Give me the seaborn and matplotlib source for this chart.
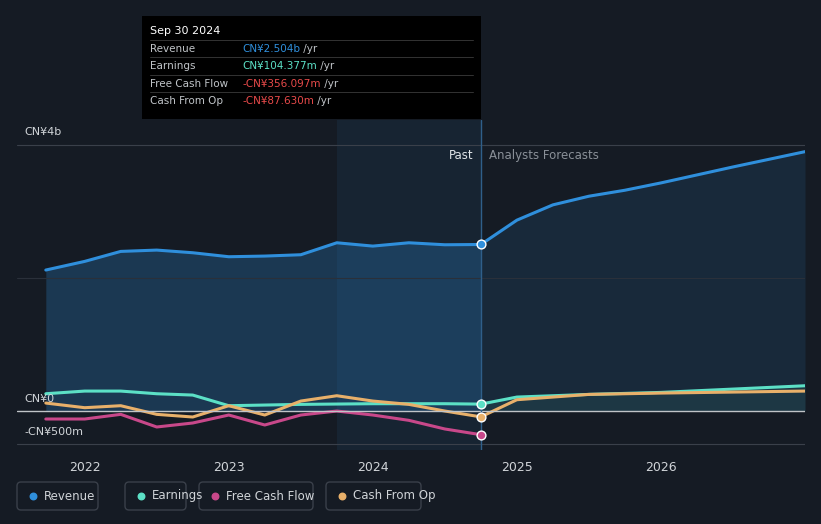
import numpy as np
import pandas as pd
import matplotlib
matplotlib.use('Agg')
import matplotlib.pyplot as plt
import seaborn as sns
from matplotlib.patches import FancyBboxPatch

sns.set_style('dark')
plt.rcParams['font.family'] = ['DejaVu Sans']

# values in CN¥ billions
rev_x = [2021.73, 2022.0, 2022.25, 2022.5, 2022.75, 2023.0, 2023.25, 2023.5, 2023.75, 2024.0, 2024.25, 2024.5, 2024.75]
rev_y = [2.12, 2.25, 2.40, 2.42, 2.38, 2.32, 2.33, 2.35, 2.53, 2.48, 2.53, 2.50, 2.504]
rev_fx = [2024.75, 2025.0, 2025.25, 2025.5, 2025.75, 2026.0, 2026.5, 2027.0]
rev_fy = [2.504, 2.87, 3.10, 3.23, 3.32, 3.43, 3.67, 3.90]

earn_x = [2021.73, 2022.0, 2022.25, 2022.5, 2022.75, 2023.0, 2023.5, 2024.0, 2024.5, 2024.75]
earn_y = [0.26, 0.30, 0.30, 0.26, 0.24, 0.08, 0.10, 0.11, 0.11, 0.104]
earn_fx = [2024.75, 2025.0, 2025.5, 2026.0, 2027.0]
earn_fy = [0.104, 0.21, 0.25, 0.28, 0.38]

fcf_x = [2021.73, 2022.0, 2022.25, 2022.5, 2022.75, 2023.0, 2023.25, 2023.5, 2023.75, 2024.0, 2024.25, 2024.5, 2024.75]
fcf_y = [-0.12, -0.12, -0.05, -0.24, -0.18, -0.06, -0.21, -0.06, 0.0, -0.06, -0.14, -0.27, -0.356]

cfo_x = [2021.73, 2022.0, 2022.25, 2022.5, 2022.75, 2023.0, 2023.25, 2023.5, 2023.75, 2024.0, 2024.25, 2024.5, 2024.75]
cfo_y = [0.12, 0.05, 0.08, -0.05, -0.09, 0.08, -0.06, 0.15, 0.23, 0.15, 0.10, 0.0, -0.088]
cfo_fx = [2024.75, 2025.0, 2025.5, 2026.0, 2027.0]
cfo_fy = [-0.088, 0.17, 0.25, 0.27, 0.30]

BG = '#151b24'
C_REV, C_EARN, C_FCF, C_CFO = '#2f8fdc', '#5ce0c6', '#c8488a', '#e8b06a'

fig = plt.figure(figsize=(8.21, 5.24), dpi=100, facecolor=BG)
ax = fig.add_axes([17/821, 1-450/524, 788/821, 330/524], facecolor=BG)
ax.set_xlim(2021.53, 2027.0)
ax.set_ylim(-0.586, 4.376)

# fills
ax.fill_between(rev_x, rev_y, 0, color=C_REV, alpha=0.25, lw=0)
ax.fill_between(rev_fx, rev_fy, 0, color=C_REV, alpha=0.12, lw=0)
ax.fill_between(earn_fx, earn_fy, 0, color=C_EARN, alpha=0.08, lw=0)
ax.axvspan(2023.75, 2024.75, color=C_REV, alpha=0.08, lw=0)

for x, y, c in [(rev_x, rev_y, C_REV), (rev_fx, rev_fy, C_REV),
                (earn_x, earn_y, C_EARN), (earn_fx, earn_fy, C_EARN),
                (fcf_x, fcf_y, C_FCF),
                (cfo_x, cfo_y, C_CFO), (cfo_fx, cfo_fy, C_CFO)]:
    d = pd.DataFrame({'x': x, 'y': y})
    sns.lineplot(data=d, x='x', y='y', ax=ax, color=c, lw=2.2)

for y, c in [(rev_y[-1], C_REV), (earn_y[-1], C_EARN), (fcf_y[-1], C_FCF), (cfo_y[-1], C_CFO)]:
    ax.scatter([2024.75], [y], s=40, color=c, edgecolor='white', lw=1, zorder=5)

ax.axhline(4, color='#3a404a', lw=0.8)
ax.axhline(2, color='#2a303a', lw=0.8)
ax.axhline(0, color='#c0c4c8', lw=1)
ax.axhline(-0.5, color='#3a404a', lw=0.8)
ax.axvline(2024.75, color='#2f5f8a', lw=1)

ax.set_xticks([2022, 2023, 2024, 2025, 2026])
ax.set_xticklabels(['2022', '2023', '2024', '2025', '2026'], color='#d0d4d8', fontsize=9)
ax.set_yticks([])
ax.set_xlabel(''); ax.set_ylabel('')
ax.tick_params(axis='x', length=0, pad=8)
for s in ax.spines.values():
    s.set_visible(False)

fig.text(24/821, 1-132/524, 'CN¥4b', color='#d0d4d8', fontsize=8, va='center')
fig.text(24/821, 1-399/524, 'CN¥0', color='#d0d4d8', fontsize=8, va='center')
fig.text(24/821, 1-432/524, '-CN¥500m', color='#d0d4d8', fontsize=8, va='center')
fig.text(473/821, 1-156/524, 'Past', color='#e0e4e8', fontsize=8.5, ha='right', va='center')
fig.text(489/821, 1-156/524, 'Analysts Forecasts', color='#8a9098', fontsize=8.5, va='center')

# tooltip
tip = fig.add_axes([142/821, 1-119/524, 339/821, 103/524], facecolor='black')
tip.set_xlim(0, 339); tip.set_ylim(103, 0)
tip.axis('off')
tip.add_patch(plt.Rectangle((0, 0), 339, 103, color='black'))
tip.text(8, 15, 'Sep 30 2024', color='white', fontsize=8, va='center')
rows = [('Revenue', 'CN¥2.504b', C_REV), ('Earnings', 'CN¥104.377m', C_EARN),
        ('Free Cash Flow', '-CN¥356.097m', '#e84a4a'), ('Cash From Op', '-CN¥87.630m', '#e84a4a')]
for i, (lab, val, c) in enumerate(rows):
    yy = 33 + i * 17.5
    tip.plot([8, 331], [yy - 9, yy - 9], color='#333', lw=0.7)
    tip.text(8, yy, lab, color='#c0c4c8', fontsize=7.5, va='center')
    t = tip.text(100, yy, val, color=c, fontsize=7.5, va='center')
    tip.annotate(' /yr', xy=(1, 0.5), xycoords=t, va='center', ha='left',
                 color='#c0c4c8', fontsize=7.5)

# legend boxes
items = [('Revenue', C_REV, 17, 98), ('Earnings', C_EARN, 125, 186), ('Free Cash Flow', C_FCF, 199, 313), ('Cash From Op', C_CFO, 326, 421)]
lg = fig.add_axes([0, 0, 1, 1], facecolor='none')
lg.set_xlim(0, 821); lg.set_ylim(524, 0); lg.axis('off')
for lab, c, x0, x1 in items:
    lg.add_patch(FancyBboxPatch((x0, 482), x1 - x0, 28, boxstyle='round,pad=0,rounding_size=4',
                                fc='none', ec='#3a404a', lw=1))
    lg.scatter([x0 + 16], [496], s=22, color=c)
    lg.text(x0 + 27, 496, lab, color='#d0d4d8', fontsize=8.5, va='center')

fig.savefig('out.png', dpi=100, facecolor=BG)
